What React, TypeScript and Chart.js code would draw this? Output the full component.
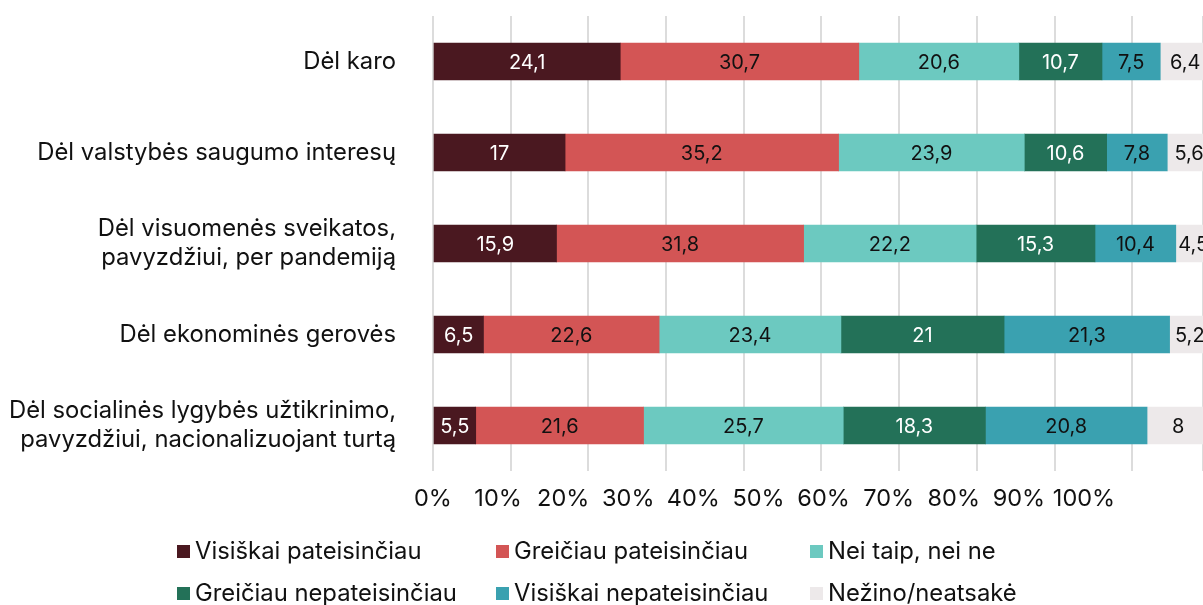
import React, { useEffect, useRef } from "react";
import { Chart, registerables } from "chart.js";

Chart.register(...registerables);

const categories: string[][] = [
  ["Dėl karo"],
  ["Dėl valstybės saugumo interesų"],
  ["Dėl visuomenės sveikatos,", "pavyzdžiui, per pandemiją"],
  ["Dėl ekonominės gerovės"],
  ["Dėl socialinės lygybės užtikrinimo,", "pavyzdžiui, nacionalizuojant turtą"],
];

const seriesNames = [
  "Visiškai pateisinčiau",
  "Greičiau pateisinčiau",
  "Nei taip, nei ne",
  "Greičiau nepateisinčiau",
  "Visiškai nepateisinčiau",
  "Nežino/neatsakė",
];

const visiskaiPateisinciau = [24.1, 17, 15.9, 6.5, 5.5];
const greiciauPateisinciau = [30.7, 35.2, 31.8, 22.6, 21.6];
const neiTaipNeiNe = [20.6, 23.9, 22.2, 23.4, 25.7];
const greiciauNepateisinciau = [10.7, 10.6, 15.3, 21, 18.3];
const visiskaiNepateisinciau = [7.5, 7.8, 10.4, 21.3, 20.8];
const nezinoNeatsake = [6.4, 5.6, 4.5, 5.2, 8];

const tickLabels = ["0%", "10%", "20%", "30%", "40%", "50%", "60%", "70%", "80%", "90%", "100%"];

const colors = ["#4a1820", "#d35555", "#6cc9c0", "#237158", "#3aa1b0", "#ede9ea"];
const labelColors = ["#ffffff", "#111111", "#111111", "#ffffff", "#111111", "#111111"];

const FONT = "Inter, 'Noto Sans', sans-serif";

const valueLabels = {
  id: "valueLabels",
  afterDatasetsDraw(chart: any) {
    const ctx = chart.ctx;
    ctx.save();
    ctx.font = `20px ${FONT}`;
    ctx.textAlign = "center";
    ctx.textBaseline = "middle";
    chart.data.datasets.forEach((ds: any, di: number) => {
      const meta = chart.getDatasetMeta(di);
      if (meta.hidden) return;
      meta.data.forEach((el: any, i: number) => {
        const v = ds.data[i];
        const cx = (el.x + el.base) / 2;
        ctx.fillStyle = labelColors[di];
        ctx.fillText(String(v).replace(".", ","), cx, el.y + 1);
      });
    });
    ctx.restore();
  },
};

export default function App() {
  const ref = useRef<HTMLCanvasElement>(null);
  useEffect(() => {
    if (!ref.current) return;
    const seriesData = [
      visiskaiPateisinciau,
      greiciauPateisinciau,
      neiTaipNeiNe,
      greiciauNepateisinciau,
      visiskaiNepateisinciau,
      nezinoNeatsake,
    ];
    const chart = new Chart(ref.current, {
      type: "bar",
      data: {
        labels: categories,
        datasets: seriesData.map((d, i) => ({
          label: seriesNames[i],
          data: d,
          backgroundColor: colors[i],
          borderWidth: 0,
          barThickness: 37,
          xAxisID: "x",
        })),
      },
      options: {
        indexAxis: "y",
        animation: false,
        responsive: false,
        devicePixelRatio: 1,
        layout: { padding: { top: 16, left: 0, right: 0, bottom: 0 } },
        plugins: {
          legend: { display: false },
          tooltip: { enabled: false },
        },
        scales: {
          x: {
            type: "linear",
            position: "bottom",
            stacked: true,
            min: 0,
            max: 99.1,
            ticks: { display: false, stepSize: 10 },
            grid: { color: "#dcdcdc", lineWidth: 2, drawTicks: false },
            border: { display: false },
            afterFit: (s: any) => {
              s.paddingLeft = 0;
              s.paddingRight = 0;
            },
          },
          x2: {
            type: "linear",
            position: "bottom",
            min: 0,
            max: 118.28,
            grid: { display: false, drawTicks: false },
            border: { display: false },
            ticks: {
              stepSize: 10,
              autoSkip: false,
              maxRotation: 0,
              padding: 14,
              color: "#111111",
              font: { family: FONT, size: 23.5 },
              callback: (v: any) => {
                const idx = Math.round(Number(v) / 10);
                return Math.abs(Number(v) - idx * 10) < 0.01 && idx < tickLabels.length ? tickLabels[idx] : "";
              },
            },
            afterFit: (s: any) => {
              s.height = 605 - 471;
              s.paddingLeft = 0;
              s.paddingRight = 0;
            },
          },
          y: {
            stacked: true,
            grid: { display: false, drawTicks: false },
            border: { display: false },
            ticks: {
              padding: 37,
              color: "#111111",
              font: { family: FONT, size: 23.8, lineHeight: 1.2 },
            },
            afterFit: (s: any) => {
              s.width = 433;
              s.paddingTop = 0;
              s.paddingBottom = 0;
            },
          },
        },
      },
      plugins: [valueLabels],
    });
    return () => chart.destroy();
  }, []);

  const legendRows = [
    [0, 1, 2],
    [3, 4, 5],
  ];
  const colWidths = [319, 314, 300];

  return (
    <div style={{ position: "fixed", left: 0, top: 0, width: 1203, height: 605, background: "#fff", overflow: "hidden" }}>
      <canvas ref={ref} width={1203} height={605} style={{ position: "absolute", left: 0, top: 0 }} />
      {legendRows.map((row, ri) => (
        <div key={ri} style={{ position: "absolute", left: 177, top: 537 + ri * 42, height: 28, display: "flex" }}>
          {row.map((si, ci) => (
            <div
              key={si}
              style={{
                width: colWidths[ci],
                display: "flex",
                alignItems: "center",
                fontFamily: FONT,
                fontSize: 23.8,
                lineHeight: "28px",
                color: "#111",
                whiteSpace: "nowrap",
              }}
            >
              <span style={{ display: "inline-block", width: 13, height: 13, background: colors[si], marginRight: 5, flex: "none" }} />
              <span>{seriesNames[si]}</span>
            </div>
          ))}
        </div>
      ))}
    </div>
  );
}
